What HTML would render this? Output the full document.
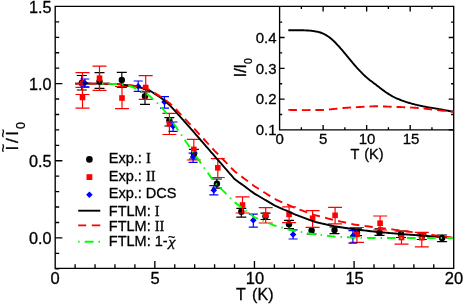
<!DOCTYPE html>
<html><head><meta charset="utf-8"><title>chart</title>
<style>html,body{margin:0;padding:0;background:#fff;}body{width:463px;height:305px;overflow:hidden;font-family:"Liberation Sans",sans-serif;}</style>
</head><body>
<svg width="463" height="305" viewBox="0 0 463 305" style="display:block;will-change:transform">
<rect width="463" height="305" fill="#fff"/>
<clipPath id="cm"><rect x="55.2" y="6.4" width="398.5" height="261.9"/></clipPath>
<g clip-path="url(#cm)">
<g stroke="#000" stroke-width="1.20" fill="none"><path d="M81.8 75.5 V90.0 M76.8 75.5 H86.8 M76.8 90.0 H86.8"/><path d="M99.5 72.7 V88.3 M94.5 72.7 H104.5 M94.5 88.3 H104.5"/><path d="M121.8 72.4 V87.4 M116.8 72.4 H126.8 M116.8 87.4 H126.8"/><path d="M145.0 91.8 V104.4 M140.0 91.8 H150.0 M140.0 104.4 H150.0"/><path d="M169.4 117.7 V126.0 M164.4 117.7 H174.4 M164.4 126.0 H174.4"/><path d="M193.9 149.4 V159.0 M188.9 149.4 H198.9 M188.9 159.0 H198.9"/><path d="M216.9 179.0 V188.2 M211.9 179.0 H221.9 M211.9 188.2 H221.9"/><path d="M241.3 208.3 V217.1 M236.3 208.3 H246.3 M236.3 217.1 H246.3"/><path d="M265.5 213.2 V219.5 M260.5 213.2 H270.5 M260.5 219.5 H270.5"/><path d="M289.0 220.4 V228.5 M284.0 220.4 H294.0 M284.0 228.5 H294.0"/><path d="M311.6 227.5 V234.0 M306.6 227.5 H316.6 M306.6 234.0 H316.6"/><path d="M334.5 227.0 V233.6 M329.5 227.0 H339.5 M329.5 233.6 H339.5"/><path d="M357.0 228.8 V235.7 M352.0 228.8 H362.0 M352.0 235.7 H362.0"/><path d="M379.5 228.8 V235.4 M374.5 228.8 H384.5 M374.5 235.4 H384.5"/><path d="M401.0 231.0 V237.5 M396.0 231.0 H406.0 M396.0 237.5 H406.0"/><path d="M421.8 234.0 V239.5 M416.8 234.0 H426.8 M416.8 239.5 H426.8"/><path d="M442.1 235.0 V241.6 M437.1 235.0 H447.1 M437.1 241.6 H447.1"/></g>
<g fill="#000"><circle cx="81.8" cy="83.0" r="3.2"/><circle cx="99.5" cy="81.6" r="3.2"/><circle cx="121.8" cy="80.0" r="3.2"/><circle cx="145.0" cy="96.3" r="3.2"/><circle cx="169.4" cy="120.5" r="3.2"/><circle cx="193.9" cy="154.0" r="3.2"/><circle cx="216.9" cy="183.8" r="3.2"/><circle cx="241.3" cy="211.8" r="3.2"/><circle cx="265.5" cy="216.3" r="3.2"/><circle cx="289.0" cy="224.3" r="3.2"/><circle cx="311.6" cy="230.5" r="3.2"/><circle cx="334.5" cy="230.1" r="3.2"/><circle cx="357.0" cy="232.2" r="3.2"/><circle cx="379.5" cy="232.6" r="3.2"/><circle cx="401.0" cy="234.3" r="3.2"/><circle cx="421.8" cy="236.5" r="3.2"/><circle cx="442.1" cy="237.9" r="3.2"/></g>
<g stroke="#f00" stroke-width="1.20" fill="none"><path d="M82.5 72.7 V94.5 M75.5 72.7 H89.5 M75.5 94.5 H89.5"/><path d="M82.5 87.4 V108.1 M75.5 87.4 H89.5 M75.5 108.1 H89.5"/><path d="M99.5 66.2 V90.4 M92.5 66.2 H106.5 M92.5 90.4 H106.5"/><path d="M122.0 86.5 V108.6 M115.0 86.5 H129.0 M115.0 108.6 H129.0"/><path d="M145.7 75.6 V99.4 M138.7 75.6 H152.7 M138.7 99.4 H152.7"/><path d="M169.4 113.3 V134.5 M162.4 113.3 H176.4 M162.4 134.5 H176.4"/><path d="M193.8 139.4 V160.0 M186.8 139.4 H200.8 M186.8 160.0 H200.8"/><path d="M217.8 158.6 V177.5 M210.8 158.6 H224.8 M210.8 177.5 H224.8"/><path d="M242.5 196.9 V213.0 M235.5 196.9 H249.5 M235.5 213.0 H249.5"/><path d="M265.7 207.6 V223.0 M258.7 207.6 H272.7 M258.7 223.0 H272.7"/><path d="M289.1 206.9 V222.7 M282.1 206.9 H296.1 M282.1 222.7 H296.1"/><path d="M312.6 210.7 V227.3 M305.6 210.7 H319.6 M305.6 227.3 H319.6"/><path d="M335.1 207.3 V223.8 M328.1 207.3 H342.1 M328.1 223.8 H342.1"/><path d="M356.9 227.5 V242.3 M349.9 227.5 H363.9 M349.9 242.3 H363.9"/><path d="M380.1 216.0 V230.0 M373.1 216.0 H387.1 M373.1 230.0 H387.1"/><path d="M401.5 231.0 V244.2 M394.5 231.0 H408.5 M394.5 244.2 H408.5"/><path d="M421.8 232.3 V246.9 M414.8 232.3 H428.8 M414.8 246.9 H428.8"/></g>
<g fill="#f00"><rect x="79.7" y="80.7" width="5.6" height="5.6"/><rect x="79.7" y="94.7" width="5.6" height="5.6"/><rect x="96.7" y="75.4" width="5.6" height="5.6"/><rect x="119.2" y="95.2" width="5.6" height="5.6"/><rect x="142.9" y="84.7" width="5.6" height="5.6"/><rect x="166.6" y="121.0" width="5.6" height="5.6"/><rect x="191.0" y="146.6" width="5.6" height="5.6"/><rect x="215.0" y="165.0" width="5.6" height="5.6"/><rect x="239.7" y="202.2" width="5.6" height="5.6"/><rect x="262.9" y="212.3" width="5.6" height="5.6"/><rect x="286.3" y="211.6" width="5.6" height="5.6"/><rect x="309.8" y="215.4" width="5.6" height="5.6"/><rect x="332.3" y="212.5" width="5.6" height="5.6"/><rect x="354.1" y="231.6" width="5.6" height="5.6"/><rect x="377.3" y="220.4" width="5.6" height="5.6"/><rect x="398.7" y="234.7" width="5.6" height="5.6"/><rect x="419.0" y="234.9" width="5.6" height="5.6"/></g>
<g stroke="#00f" stroke-width="1.20" fill="none"><path d="M84.8 79.0 V86.9 M80.3 79.0 H89.3 M80.3 86.9 H89.3"/><path d="M138.2 81.0 V91.3 M133.7 81.0 H142.7 M133.7 91.3 H142.7"/><path d="M164.5 96.6 V108.2 M160.0 96.6 H169.0 M160.0 108.2 H169.0"/><path d="M173.1 122.0 V131.3 M168.6 122.0 H177.6 M168.6 131.3 H177.6"/><path d="M193.1 153.2 V162.3 M188.6 153.2 H197.6 M188.6 162.3 H197.6"/><path d="M213.8 185.7 V194.9 M209.3 185.7 H218.3 M209.3 194.9 H218.3"/><path d="M253.3 214.1 V227.2 M248.8 214.1 H257.8 M248.8 227.2 H257.8"/><path d="M293.1 229.8 V239.0 M288.6 229.8 H297.6 M288.6 239.0 H297.6"/><path d="M352.9 230.7 V243.2 M348.4 230.7 H357.4 M348.4 243.2 H357.4"/></g>
<g fill="#00f"><path d="M84.8 79.7 l3.3 3.3 l-3.3 3.3 l-3.3 -3.3z"/><path d="M138.2 83.0 l3.3 3.3 l-3.3 3.3 l-3.3 -3.3z"/><path d="M164.5 98.6 l3.3 3.3 l-3.3 3.3 l-3.3 -3.3z"/><path d="M173.1 123.0 l3.3 3.3 l-3.3 3.3 l-3.3 -3.3z"/><path d="M193.1 153.7 l3.3 3.3 l-3.3 3.3 l-3.3 -3.3z"/><path d="M213.8 186.9 l3.3 3.3 l-3.3 3.3 l-3.3 -3.3z"/><path d="M253.3 217.0 l3.3 3.3 l-3.3 3.3 l-3.3 -3.3z"/><path d="M293.1 231.2 l3.3 3.3 l-3.3 3.3 l-3.3 -3.3z"/><path d="M352.9 232.6 l3.3 3.3 l-3.3 3.3 l-3.3 -3.3z"/></g>
<path d="M75.12 83.60 L76.09 83.60 L77.29 83.60 L78.71 83.59 L80.29 83.59 L82.01 83.58 L83.84 83.58 L85.74 83.57 L87.67 83.57 L89.60 83.57 L91.50 83.58 L93.33 83.59 L95.05 83.60 L96.74 83.62 L98.49 83.64 L100.26 83.66 L102.06 83.68 L103.85 83.71 L105.63 83.74 L107.37 83.77 L109.07 83.81 L110.69 83.85 L112.23 83.89 L113.66 83.94 L114.97 84.00 L116.16 84.06 L117.22 84.13 L118.18 84.20 L119.05 84.27 L119.86 84.35 L120.61 84.44 L121.33 84.52 L122.03 84.61 L122.73 84.71 L123.45 84.80 L124.20 84.90 L125.00 85.00 L125.83 85.10 L126.65 85.20 L127.48 85.29 L128.30 85.39 L129.12 85.49 L129.95 85.60 L130.77 85.71 L131.59 85.83 L132.41 85.96 L133.24 86.09 L134.07 86.24 L134.90 86.40 L135.75 86.58 L136.63 86.77 L137.53 86.98 L138.44 87.20 L139.35 87.43 L140.25 87.67 L141.14 87.91 L142.00 88.14 L142.82 88.37 L143.60 88.59 L144.33 88.80 L145.00 89.00 L145.60 89.18 L146.14 89.34 L146.64 89.50 L147.08 89.64 L147.50 89.79 L147.89 89.92 L148.25 90.07 L148.61 90.21 L148.97 90.36 L149.33 90.53 L149.70 90.71 L150.10 90.90 L150.51 91.11 L150.90 91.33 L151.30 91.57 L151.69 91.81 L152.07 92.06 L152.46 92.31 L152.84 92.57 L153.23 92.84 L153.62 93.10 L154.02 93.37 L154.42 93.64 L154.82 93.90 L155.24 94.16 L155.65 94.41 L156.06 94.66 L156.47 94.91 L156.89 95.17 L157.31 95.43 L157.73 95.69 L158.17 95.96 L158.61 96.25 L159.06 96.55 L159.52 96.86 L160.00 97.20 L160.48 97.55 L160.97 97.90 L161.47 98.25 L161.97 98.61 L162.48 98.99 L163.00 99.38 L163.53 99.79 L164.08 100.22 L164.63 100.67 L165.21 101.15 L165.79 101.66 L166.40 102.20 L166.99 102.74 L167.54 103.24 L168.08 103.73 L168.61 104.23 L169.15 104.74 L169.73 105.31 L170.35 105.93 L171.04 106.63 L171.80 107.43 L172.67 108.34 L173.64 109.40 L174.75 110.60 L176.41 112.47 L178.07 114.35 L179.73 116.22 L181.39 118.10 L183.05 119.97 L184.71 121.85 L186.37 123.72 L188.03 125.60 L189.69 127.47 L191.35 129.35 L193.01 131.22 L194.68 133.10 L196.34 135.02 L198.00 136.93 L199.66 138.85 L201.32 140.77 L202.98 142.68 L204.64 144.60 L206.30 146.52 L207.96 148.43 L209.62 150.35 L211.28 152.27 L212.94 154.18 L214.60 156.10 L216.26 158.01 L217.92 159.92 L219.58 161.82 L221.24 163.73 L222.90 165.64 L224.56 167.55 L226.22 169.46 L227.88 171.37 L229.54 173.28 L231.20 175.18 L232.86 177.09 L234.52 179.00 L236.19 180.22 L237.85 181.43 L239.51 182.65 L241.17 183.87 L242.83 185.08 L244.49 186.30 L246.15 187.52 L247.81 188.73 L249.47 189.95 L251.13 191.17 L252.79 192.38 L254.45 193.60 L256.11 194.57 L257.77 195.55 L259.43 196.53 L261.09 197.50 L262.75 198.47 L264.41 199.45 L266.07 200.43 L267.73 201.40 L269.39 202.38 L271.05 203.35 L272.71 204.33 L274.38 205.30 L276.04 206.04 L277.70 206.78 L279.36 207.53 L281.02 208.27 L282.68 209.01 L284.34 209.75 L286.00 210.49 L287.66 211.23 L289.32 211.97 L290.98 212.72 L292.64 213.46 L294.30 214.20 L295.96 214.82 L297.62 215.45 L299.28 216.07 L300.94 216.70 L302.60 217.32 L304.26 217.95 L305.92 218.57 L307.58 219.20 L309.24 219.82 L310.90 220.45 L312.56 221.07 L314.22 221.70 L315.89 222.08 L317.55 222.47 L319.21 222.85 L320.87 223.23 L322.53 223.62 L324.19 224.00 L325.85 224.38 L327.51 224.77 L329.17 225.15 L330.83 225.53 L332.49 225.92 L334.15 226.30 L335.81 226.54 L337.47 226.78 L339.13 227.03 L340.79 227.27 L342.45 227.51 L344.11 227.75 L345.77 227.99 L347.43 228.23 L349.09 228.47 L350.75 228.72 L352.41 228.96 L354.07 229.20 L355.74 229.40 L357.40 229.60 L359.06 229.80 L360.72 230.00 L362.38 230.20 L364.04 230.40 L365.70 230.60 L367.36 230.80 L369.02 231.00 L370.68 231.20 L372.34 231.40 L374.00 231.60 L375.66 231.75 L377.32 231.90 L378.98 232.05 L380.64 232.20 L382.30 232.35 L383.96 232.50 L385.62 232.65 L387.28 232.80 L388.94 232.95 L390.60 233.10 L392.26 233.25 L393.93 233.40 L395.59 233.53 L397.25 233.67 L398.91 233.80 L400.57 233.93 L402.23 234.07 L403.89 234.20 L405.55 234.33 L407.21 234.47 L408.87 234.60 L410.53 234.73 L412.19 234.87 L413.85 235.00 L415.51 235.12 L417.17 235.25 L418.83 235.38 L420.49 235.50 L422.15 235.62 L423.81 235.75 L425.47 235.88 L427.13 236.00 L428.79 236.12 L430.45 236.25 L432.11 236.38 L433.77 236.50 L435.44 236.62 L437.10 236.75 L438.76 236.88 L440.42 237.00 L442.08 237.12 L443.74 237.25 L445.40 237.38 L447.06 237.50 L448.72 237.62 L450.38 237.75 L452.04 237.88 L453.70 238.00" fill="none" stroke="#000" stroke-width="1.9"/>
<path d="M75.12 83.60 L76.09 83.60 L77.29 83.60 L78.71 83.60 L80.29 83.59 L82.01 83.59 L83.28 83.59 M88.58 83.59 L89.60 83.59 L91.50 83.59 L93.33 83.59 L95.05 83.60 L96.73 83.61 M102.03 83.63 L102.06 83.63 L103.85 83.63 L105.63 83.64 L107.37 83.66 L109.07 83.67 L110.19 83.69 M115.48 83.82 L116.16 83.85 L117.22 83.91 L118.18 83.97 L119.05 84.04 L119.86 84.11 L120.61 84.19 L121.33 84.27 L122.03 84.35 L122.73 84.44 L123.45 84.52 L123.60 84.54 M128.88 85.09 L129.12 85.11 L129.95 85.20 L130.77 85.29 L131.59 85.39 L132.41 85.50 L133.24 85.62 L134.07 85.75 L134.90 85.90 L135.75 86.07 L136.63 86.25 L136.93 86.32 M142.07 87.59 L142.82 87.79 L143.60 88.01 L144.33 88.21 L145.00 88.40 L145.60 88.57 L146.14 88.73 L146.64 88.87 L147.08 89.01 L147.50 89.14 L147.89 89.28 L148.25 89.41 L148.61 89.54 L148.97 89.69 L149.33 89.84 L149.70 90.01 L149.83 90.07 M154.36 92.81 L154.42 92.84 L154.82 93.10 L155.24 93.35 L155.65 93.60 L156.06 93.85 L156.47 94.10 L156.89 94.35 L157.31 94.60 L157.73 94.86 L158.17 95.13 L158.61 95.40 L159.06 95.69 L159.52 95.99 L160.00 96.30 L160.48 96.62 L160.97 96.94 L161.27 97.14 M165.61 100.18 L165.79 100.33 L166.40 100.80 L166.99 101.26 L167.54 101.68 L168.08 102.08 L168.61 102.48 L169.15 102.90 L169.73 103.36 L170.35 103.87 L171.04 104.46 L171.80 105.15 L171.96 105.30 M175.72 109.03 L176.41 109.77 L178.07 111.53 L179.73 113.30 L181.30 114.97 M184.93 118.83 L186.37 120.37 L188.03 122.13 L189.69 123.90 L190.51 124.77 M194.14 128.64 L194.68 129.20 L196.34 131.00 L198.00 132.80 L199.66 134.60 L199.68 134.62 M203.27 138.52 L204.64 140.00 L206.30 141.80 L207.96 143.60 L208.80 144.51 M212.39 148.41 L212.94 149.00 L214.60 150.80 L216.26 152.50 L217.92 154.20 L218.02 154.31 M221.73 158.10 L222.90 159.30 L224.56 161.00 L226.22 162.70 L227.42 163.93 M231.13 167.72 L231.20 167.80 L232.86 169.50 L234.52 171.20 L236.19 172.45 L237.16 173.18 M241.39 176.37 L242.83 177.45 L244.49 178.70 L246.15 179.95 L247.81 181.20 L247.90 181.27 M252.14 184.46 L252.79 184.95 L254.45 186.20 L256.11 187.25 L257.77 188.30 L258.90 189.01 M263.38 191.84 L264.41 192.50 L266.07 193.55 L267.73 194.60 L269.39 195.65 L270.27 196.20 M274.78 198.98 L276.04 199.54 L277.70 200.28 L279.36 201.03 L281.02 201.77 L282.22 202.30 M287.06 204.47 L287.66 204.73 L289.32 205.47 L290.98 206.22 L292.64 206.96 L294.30 207.70 L294.51 207.78 M299.50 209.58 L300.94 210.10 L302.60 210.70 L304.26 211.30 L305.92 211.90 L307.17 212.35 M312.15 214.15 L312.56 214.30 L314.22 214.90 L315.89 215.33 L317.55 215.77 L319.21 216.20 L319.98 216.40 M325.11 217.74 L325.85 217.93 L327.51 218.37 L329.17 218.80 L330.83 219.23 L332.49 219.67 L333.00 219.80 M338.16 220.99 L339.13 221.20 L340.79 221.57 L342.45 221.93 L344.11 222.30 L345.77 222.67 L346.12 222.74 M351.30 223.89 L352.41 224.13 L354.07 224.50 L355.74 224.72 L357.40 224.95 L359.06 225.18 L359.34 225.21 M364.59 225.93 L365.70 226.08 L367.36 226.30 L369.02 226.53 L370.68 226.75 L372.34 226.97 L372.67 227.02 M377.93 227.67 L378.98 227.80 L380.64 228.00 L382.30 228.20 L383.96 228.40 L385.62 228.60 L386.03 228.65 M391.29 229.28 L392.26 229.40 L393.93 229.60 L395.59 229.83 L397.25 230.07 L398.91 230.30 L399.37 230.37 M404.62 231.10 L405.55 231.23 L407.21 231.47 L408.87 231.70 L410.53 231.93 L412.19 232.17 L412.69 232.24 M417.94 232.97 L418.83 233.10 L420.49 233.33 L422.15 233.57 L423.81 233.80 L425.47 234.03 L426.02 234.11 M431.26 234.85 L432.11 234.97 L433.77 235.20 L435.44 235.43 L437.10 235.67 L438.76 235.90 L439.34 235.98 M444.59 236.72 L445.40 236.83 L447.06 237.07 L448.72 237.30 L450.38 237.53 L452.04 237.77 L452.66 237.85 " fill="none" stroke="#f00" stroke-width="1.9"/>
<path d="M102.06 83.69 L103.46 83.71 M108.46 83.80 L109.07 83.81 L110.69 83.86 L112.23 83.90 L113.66 83.95 L114.97 84.00 L116.16 84.05 L117.09 84.09 M122.07 84.42 L122.73 84.51 L123.45 84.62 L123.46 84.62 M128.34 85.70 L129.06 85.90 L129.86 86.14 L130.67 86.41 L131.49 86.69 L132.32 86.98 L133.16 87.30 L134.02 87.64 L134.90 88.00 L135.81 88.39 L136.44 88.66 M140.96 90.81 L141.68 91.18 L142.20 91.45 M146.53 93.95 L147.12 94.33 L147.92 94.88 L148.70 95.45 L149.45 96.02 L150.19 96.60 L150.91 97.19 L151.61 97.77 L152.29 98.36 L152.95 98.93 L153.32 99.26 M157.00 102.65 L157.01 102.67 L157.51 103.17 L157.97 103.65 M161.37 107.32 L161.54 107.50 L161.92 107.90 L162.28 108.29 L162.64 108.68 L163.00 109.08 L163.37 109.50 L163.77 109.96 L164.19 110.46 L164.64 111.03 L165.14 111.67 L165.70 112.40 L166.28 113.17 L166.85 113.94 L166.87 113.97 M169.78 118.03 L170.00 118.35 L170.58 119.18 M173.43 123.29 L173.60 123.54 L174.75 125.20 L176.41 127.63 L178.07 130.07 L178.31 130.42 M181.13 134.55 L181.39 134.93 L181.92 135.70 M184.73 139.83 L186.37 142.23 L188.03 144.67 L189.60 146.96 M192.42 151.09 L193.01 151.97 L193.21 152.25 M196.07 156.35 L196.34 156.72 L198.00 159.05 L199.66 161.38 L201.09 163.38 M203.99 167.45 L204.64 168.35 L204.81 168.59 M207.71 172.66 L207.96 173.00 L209.62 175.33 L211.28 177.65 L212.73 179.68 M215.86 183.56 L216.26 183.95 L216.86 184.54 M220.40 188.07 L221.24 188.90 L222.90 190.55 L224.56 192.20 L226.22 193.85 L226.53 194.15 M230.07 197.68 L231.07 198.66 M234.63 202.18 L236.19 203.37 L237.85 204.63 L239.51 205.90 L241.17 207.17 L241.49 207.41 M245.47 210.45 L246.15 210.97 L246.58 211.29 M250.55 214.33 L251.13 214.77 L252.79 216.03 L254.45 217.30 L256.11 217.98 L257.77 218.67 L257.90 218.72 M262.53 220.62 L262.75 220.72 L263.82 221.16 M268.44 223.06 L269.39 223.45 L271.05 224.13 L272.71 224.82 L274.38 225.50 L276.04 225.95 L276.52 226.08 M281.34 227.39 L282.68 227.75 L282.70 227.76 M287.52 229.06 L287.66 229.10 L289.32 229.55 L290.98 230.00 L292.64 230.45 L294.30 230.90 L295.89 231.17 M300.82 232.01 L300.94 232.03 L302.20 232.25 M307.13 233.09 L307.58 233.17 L309.24 233.45 L310.90 233.73 L312.56 234.02 L314.22 234.30 L315.65 234.46 M320.62 235.01 L320.87 235.03 L322.01 235.16 M326.98 235.71 L327.51 235.77 L329.17 235.95 L330.83 236.13 L332.49 236.32 L334.15 236.50 L335.57 236.59 M340.56 236.89 L340.79 236.90 L341.96 236.97 M346.95 237.27 L347.43 237.30 L349.09 237.40 L350.75 237.50 L352.41 237.60 L354.07 237.70 L355.57 237.72 M360.57 237.80 L360.72 237.80 L361.97 237.82 M366.97 237.89 L367.36 237.90 L369.02 237.93 L370.68 237.95 L372.34 237.97 L374.00 238.00 L375.60 238.00 M380.60 238.00 L380.64 238.00 L382.00 238.00 M387.00 238.00 L387.28 238.00 L388.94 238.00 L390.60 238.00 L392.26 238.00 L393.93 238.00 L395.59 238.00 L395.63 238.00 M400.63 238.00 L402.03 238.00 M407.03 238.00 L407.21 238.00 L408.87 238.00 L410.53 238.00 L412.19 238.00 L413.85 238.00 L415.51 238.00 L415.67 238.00 M420.67 238.00 L422.07 238.00 M427.07 238.00 L427.13 238.00 L428.79 238.00 L430.45 238.00 L432.11 238.00 L433.77 238.00 L435.44 238.00 L435.70 238.00 M440.70 238.00 L442.08 238.00 L442.10 238.00 M447.10 238.00 L448.72 238.00 L450.38 238.00 L452.04 238.00 L453.70 238.00 " fill="none" stroke="#0f0" stroke-width="1.9"/>
</g>
<g stroke="#000" stroke-width="1.35" fill="none">
<path d="M55.2 6.4 H453.7 V268.3 H55.2 Z"/>
<path d="M55.2 268.76 h4.0 M55.2 253.33 h4.0 M55.2 237.90 h7.2 M55.2 222.47 h4.0 M55.2 207.04 h4.0 M55.2 191.61 h4.0 M55.2 176.18 h4.0 M55.2 160.75 h7.2 M55.2 145.32 h4.0 M55.2 129.89 h4.0 M55.2 114.46 h4.0 M55.2 99.03 h4.0 M55.2 83.60 h7.2 M55.2 68.17 h4.0 M55.2 52.74 h4.0 M55.2 37.31 h4.0 M55.2 21.88 h4.0 M75.12 268.3 v-4.0 M95.05 268.3 v-4.0 M114.97 268.3 v-4.0 M134.90 268.3 v-4.0 M154.82 268.3 v-7.2 M174.75 268.3 v-4.0 M194.68 268.3 v-4.0 M214.60 268.3 v-4.0 M234.52 268.3 v-4.0 M254.45 268.3 v-7.2 M274.38 268.3 v-4.0 M294.30 268.3 v-4.0 M314.22 268.3 v-4.0 M334.15 268.3 v-4.0 M354.07 268.3 v-7.2 M374.00 268.3 v-4.0 M393.93 268.3 v-4.0 M413.85 268.3 v-4.0 M433.77 268.3 v-4.0 "/>
</g>
<g stroke="#000" stroke-width="1.35" fill="none">
<path d="M279.6 6.4 V129.9 H453.7"/>
<path d="M453.7 129.90 h-5.0 M279.6 114.50 h2.6 M453.7 114.50 h-2.6 M279.6 99.10 h5.0 M453.7 99.10 h-5.0 M279.6 83.70 h2.6 M453.7 83.70 h-2.6 M279.6 68.30 h5.0 M453.7 68.30 h-5.0 M279.6 52.90 h2.6 M453.7 52.90 h-2.6 M279.6 37.50 h5.0 M453.7 37.50 h-5.0 M279.6 22.10 h2.6 M453.7 22.10 h-2.6 M301.36 129.9 v-2.6 M301.36 6.4 v2.6 M323.12 129.9 v-5.0 M323.12 6.4 v5.0 M344.89 129.9 v-2.6 M344.89 6.4 v2.6 M366.65 129.9 v-5.0 M366.65 6.4 v5.0 M388.41 129.9 v-2.6 M388.41 6.4 v2.6 M410.18 129.9 v-5.0 M410.18 6.4 v5.0 M431.94 129.9 v-2.6 M431.94 6.4 v2.6 "/>
</g>
<path d="M288.31 30.30 L288.73 30.30 L289.25 30.30 L289.87 30.30 L290.56 30.30 L291.31 30.29 L292.11 30.29 L292.94 30.29 L293.79 30.29 L294.63 30.29 L295.46 30.29 L296.26 30.30 L297.01 30.30 L297.74 30.30 L298.46 30.30 L299.19 30.30 L299.91 30.30 L300.64 30.30 L301.36 30.30 L302.09 30.30 L302.81 30.31 L303.54 30.32 L304.26 30.34 L304.99 30.37 L305.72 30.40 L306.44 30.44 L307.17 30.47 L307.89 30.51 L308.62 30.56 L309.34 30.60 L310.07 30.66 L310.79 30.72 L311.52 30.79 L312.24 30.87 L312.97 30.97 L313.69 31.08 L314.42 31.20 L315.15 31.33 L315.87 31.47 L316.60 31.61 L317.32 31.76 L318.05 31.92 L318.77 32.09 L319.50 32.29 L320.22 32.50 L320.95 32.73 L321.67 32.99 L322.40 33.28 L323.12 33.60 L323.85 33.95 L324.58 34.32 L325.30 34.72 L326.03 35.13 L326.75 35.57 L327.48 36.04 L328.20 36.52 L328.93 37.03 L329.65 37.57 L330.38 38.12 L331.10 38.70 L331.83 39.30 L332.56 39.93 L333.28 40.59 L334.01 41.29 L334.73 42.00 L335.46 42.75 L336.18 43.51 L336.91 44.28 L337.63 45.07 L338.36 45.87 L339.08 46.68 L339.81 47.49 L340.54 48.30 L341.26 49.12 L341.99 49.95 L342.71 50.81 L343.44 51.67 L344.16 52.54 L344.89 53.42 L345.61 54.31 L346.34 55.20 L347.06 56.08 L347.79 56.96 L348.51 57.84 L349.24 58.70 L349.97 59.56 L350.69 60.43 L351.42 61.30 L352.14 62.17 L352.87 63.05 L353.59 63.91 L354.32 64.77 L355.04 65.63 L355.77 66.47 L356.49 67.29 L357.22 68.11 L357.94 68.90 L358.67 69.68 L359.40 70.45 L360.12 71.20 L360.85 71.95 L361.57 72.69 L362.30 73.41 L363.02 74.13 L363.75 74.83 L364.47 75.51 L365.20 76.19 L365.92 76.85 L366.65 77.50 L367.38 78.13 L368.10 78.74 L368.83 79.33 L369.55 79.91 L370.28 80.47 L371.00 81.02 L371.73 81.57 L372.45 82.11 L373.18 82.66 L373.90 83.20 L374.63 83.75 L375.36 84.30 L376.08 84.86 L376.81 85.42 L377.53 85.99 L378.26 86.55 L378.98 87.11 L379.71 87.67 L380.43 88.23 L381.16 88.78 L381.88 89.33 L382.61 89.86 L383.33 90.39 L384.06 90.90 L384.79 91.41 L385.51 91.91 L386.24 92.41 L386.96 92.91 L387.69 93.40 L388.41 93.88 L389.14 94.34 L389.86 94.80 L390.59 95.25 L391.31 95.68 L392.04 96.10 L392.76 96.50 L393.49 96.88 L394.22 97.25 L394.94 97.60 L395.67 97.93 L396.39 98.26 L397.12 98.57 L397.84 98.87 L398.57 99.17 L399.29 99.46 L400.02 99.74 L400.74 100.02 L401.47 100.30 L402.20 100.58 L402.92 100.84 L403.65 101.10 L404.37 101.36 L405.10 101.61 L405.82 101.85 L406.55 102.09 L407.27 102.32 L408.00 102.55 L408.72 102.77 L409.45 102.99 L410.18 103.20 L410.90 103.41 L411.63 103.61 L412.35 103.81 L413.08 104.00 L413.80 104.19 L414.53 104.37 L415.25 104.55 L415.98 104.72 L416.70 104.89 L417.43 105.06 L418.15 105.23 L418.88 105.40 L419.61 105.57 L420.33 105.73 L421.06 105.89 L421.78 106.04 L422.51 106.20 L423.23 106.35 L423.96 106.50 L424.68 106.64 L425.41 106.79 L426.13 106.93 L426.86 107.07 L427.58 107.20 L428.31 107.33 L429.04 107.45 L429.76 107.57 L430.49 107.69 L431.21 107.80 L431.94 107.91 L432.66 108.02 L433.39 108.13 L434.11 108.25 L434.84 108.36 L435.56 108.48 L436.29 108.60 L437.02 108.73 L437.74 108.86 L438.47 108.99 L439.19 109.12 L439.92 109.25 L440.64 109.39 L441.37 109.52 L442.09 109.66 L442.82 109.80 L443.54 109.93 L444.27 110.07 L445.00 110.20 L445.75 110.34 L446.55 110.49 L447.38 110.64 L448.22 110.79 L449.06 110.95 L449.89 111.10 L450.69 111.25 L451.44 111.39 L452.14 111.51 L452.75 111.63 L453.28 111.72 L453.70 111.80" fill="none" stroke="#000" stroke-width="1.9"/>
<path d="M288.31 109.90 L288.73 109.90 L289.25 109.91 L289.87 109.92 L290.56 109.93 L291.31 109.93 L292.11 109.94 L292.94 109.95 L293.79 109.96 L294.63 109.97 L295.46 109.98 L296.26 109.99 L296.90 110.00 M301.85 110.07 L302.09 110.07 L302.81 110.08 L303.54 110.09 L304.26 110.09 L304.99 110.10 L305.72 110.10 L306.44 110.10 L307.17 110.09 L307.89 110.09 L308.62 110.08 L309.34 110.07 L310.07 110.06 L310.45 110.06 M315.40 109.99 L315.87 109.99 L316.60 109.99 L317.32 109.99 L318.05 109.99 L318.77 109.99 L319.50 109.98 L320.22 109.98 L320.95 109.97 L321.67 109.95 L322.40 109.93 L323.12 109.90 L323.85 109.86 L324.00 109.85 M328.94 109.47 L329.65 109.40 L330.38 109.34 L331.10 109.27 L331.83 109.20 L332.56 109.13 L333.28 109.06 L334.01 108.98 L334.73 108.91 L335.46 108.83 L336.18 108.75 L336.91 108.67 L337.49 108.61 M342.42 108.13 L342.71 108.11 L343.44 108.04 L344.16 107.98 L344.89 107.92 L345.61 107.87 L346.34 107.81 L347.06 107.76 L347.79 107.70 L348.51 107.65 L349.24 107.60 L349.97 107.55 L350.69 107.51 L350.99 107.49 M355.94 107.21 L356.49 107.18 L357.22 107.14 L357.94 107.10 L358.67 107.06 L359.40 107.01 L360.12 106.97 L360.85 106.93 L361.57 106.88 L362.30 106.84 L363.02 106.79 L363.75 106.75 L364.47 106.71 L364.52 106.71 M369.47 106.47 L369.55 106.47 L370.28 106.44 L371.00 106.41 L371.73 106.38 L372.45 106.36 L373.18 106.34 L373.90 106.32 L374.63 106.31 L375.36 106.30 L376.08 106.30 L376.81 106.30 L377.53 106.31 L378.06 106.32 M383.01 106.47 L383.33 106.48 L384.06 106.50 L384.79 106.52 L385.51 106.54 L386.24 106.57 L386.96 106.59 L387.69 106.62 L388.41 106.64 L389.14 106.67 L389.86 106.70 L390.59 106.72 L391.31 106.75 L391.61 106.76 M396.55 106.93 L397.12 106.94 L397.84 106.97 L398.57 106.99 L399.29 107.02 L400.02 107.04 L400.74 107.07 L401.47 107.10 L402.20 107.13 L402.92 107.16 L403.65 107.19 L404.37 107.22 L405.10 107.25 L405.15 107.25 M410.09 107.50 L410.18 107.50 L410.90 107.54 L411.63 107.58 L412.35 107.63 L413.08 107.67 L413.80 107.72 L414.53 107.77 L415.25 107.82 L415.98 107.87 L416.70 107.92 L417.43 107.98 L418.15 108.04 L418.67 108.08 M423.60 108.56 L423.96 108.60 L424.68 108.68 L425.41 108.76 L426.13 108.84 L426.86 108.92 L427.58 109.00 L428.31 109.08 L429.04 109.16 L429.76 109.25 L430.49 109.33 L431.21 109.41 L431.94 109.50 L432.14 109.52 M437.06 110.08 L437.74 110.16 L438.47 110.23 L439.19 110.31 L439.92 110.39 L440.64 110.46 L441.37 110.54 L442.09 110.61 L442.82 110.68 L443.54 110.76 L444.27 110.83 L445.00 110.90 L445.62 110.96 M450.55 111.42 L450.69 111.43 L451.44 111.50 L452.14 111.56 L452.75 111.61 L453.28 111.66 L453.70 111.70 " fill="none" stroke="#f00" stroke-width="1.9"/>
<g font-family="Liberation Sans, sans-serif" fill="#000" stroke="#000" stroke-width="0.3">
<text x="51.6" y="12.5" font-size="16.2" text-anchor="end">1.5</text>
<text x="51.6" y="89.7" font-size="16.2" text-anchor="end">1.0</text>
<text x="51.6" y="166.8" font-size="16.2" text-anchor="end">0.5</text>
<text x="51.6" y="244.0" font-size="16.2" text-anchor="end">0.0</text>
<text x="55.2" y="284.3" font-size="16.5" text-anchor="middle">0</text>
<text x="155.0" y="284.3" font-size="16.5" text-anchor="middle">5</text>
<text x="254.9" y="284.3" font-size="16.5" text-anchor="middle">10</text>
<text x="354.6" y="284.3" font-size="16.5" text-anchor="middle">15</text>
<text x="454.0" y="284.3" font-size="16.5" text-anchor="middle">20</text>
<text x="254.9" y="300.2" font-size="16" text-anchor="middle" word-spacing="1.6" letter-spacing="0.2">T (K)</text>
<g transform="translate(18,148.1) rotate(-90)" text-anchor="middle"><text x="0" y="0" font-size="17">I</text><text x="7.4" y="0" font-size="17">/</text><text x="14.8" y="0" font-size="17">I</text><text x="22.6" y="7.1" font-size="12.5">0</text><text x="0" y="-10.2" font-size="15">~</text><text x="14.8" y="-10.2" font-size="15">~</text></g>
<text x="276.6" y="42.7" font-size="15" text-anchor="end">0.4</text>
<text x="276.6" y="73.5" font-size="15" text-anchor="end">0.3</text>
<text x="276.6" y="104.3" font-size="15" text-anchor="end">0.2</text>
<text x="276.6" y="135.1" font-size="15" text-anchor="end">0.1</text>
<text x="279.6" y="144.2" font-size="15" text-anchor="middle">0</text>
<text x="323.1" y="144.2" font-size="15" text-anchor="middle">5</text>
<text x="367.1" y="144.2" font-size="15" text-anchor="middle">10</text>
<text x="411.0" y="144.2" font-size="15" text-anchor="middle">15</text>
<text x="367" y="158.6" font-size="14.5" text-anchor="middle" word-spacing="1.2">T (K)</text>
<g transform="translate(245.5,77.3) rotate(-90)"><text x="0" y="0" font-size="16">I/I<tspan font-size="10.5" dy="6">0</tspan></text></g>
<circle cx="89.4" cy="159.4" r="3.3" stroke="none"/>
<rect x="86.5" y="174.2" width="5.8" height="5.8" fill="#f00" stroke="none"/>
<path d="M89.4 191.4 l3.3 3.3 l-3.3 3.3 l-3.3 -3.3z" fill="#00f" stroke="none"/>
<path d="M78.2 210.7 H100.3" stroke="#000" stroke-width="1.9"/>
<path d="M78.2 225.4 h8 M91.8 225.4 h8.5" stroke="#f00" stroke-width="1.9"/>
<path d="M78.2 241.7 h1.4 M84.7 241.7 h8.9 M98.5 241.7 h1.5" stroke="#0f0" stroke-width="1.9"/>
<text x="108.8" y="163.4" font-size="14.5">Exp.: <tspan font-family="Liberation Serif, serif" font-size="14.6">I</tspan></text>
<text x="108.8" y="180.8" font-size="14.5">Exp.: <tspan font-family="Liberation Serif, serif" font-size="14.6">II</tspan></text>
<text x="108.8" y="198.2" font-size="14.5">Exp.: DCS</text>
<text x="108.8" y="215.5" font-size="14.5">FTLM: <tspan font-family="Liberation Serif, serif" font-size="14.6">I</tspan></text>
<text x="108.8" y="230.7" font-size="14.5">FTLM: <tspan font-family="Liberation Serif, serif" font-size="14.6">II</tspan></text>
<text x="108.8" y="245.8" font-size="14.5">FTLM: 1-</text>
<text transform="translate(168.6,246.2) scale(1.28,1)" font-family="Liberation Serif, serif" font-size="12.3" font-style="italic">χ</text>
<text x="171.7" y="240.6" font-size="12.5" text-anchor="middle">~</text>
</g>
</svg>
</body></html>
